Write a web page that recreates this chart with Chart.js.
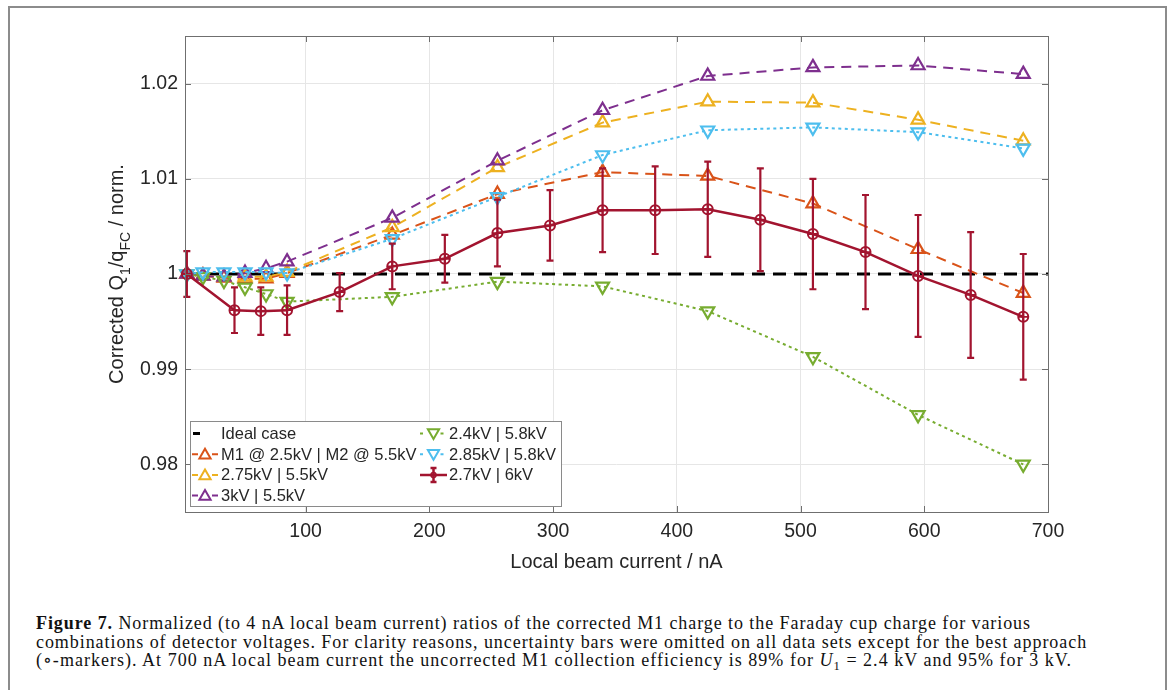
<!DOCTYPE html>
<html>
<head>
<meta charset="utf-8">
<script src="https://cdn.jsdelivr.net/npm/chart.js"></script>
<style>
  body { margin: 0; background: #fff; width: 1171px; height: 690px; overflow: hidden; position: relative; }
  #frame { position: absolute; left: 8px; top: 6px; width: 1155px; height: 720px; border: 2px solid #8c8c8c; border-bottom: none; }
  #plot { position: absolute; left: 0; top: 0; }
  #caption { position: absolute; left: 36px; top: 614px; font-family: "Liberation Serif", "DejaVu Serif", serif; font-size: 18px; color: #111; line-height: 18.5px; }
  #caption div { white-space: nowrap; width: max-content; }
  #caption sub { font-size: 0.7em; vertical-align: -0.3em; line-height: 0; }
</style>
</head>
<body>
<div id="frame"></div>
<canvas id="plot" width="1171" height="590"></canvas>
<div id="caption">
  <div><b>Figure 7.</b> Normalized (to 4 nA local beam current) ratios of the corrected M1 charge to the Faraday cup charge for various</div>
  <div>combinations of detector voltages. For clarity reasons, uncertainty bars were omitted on all data sets except for the best approach</div>
  <div>(∘-markers). At 700 nA local beam current the uncorrected M1 collection efficiency is 89% for <i>U</i><sub>1</sub> = 2.4 kV and 95% for 3 kV.</div>
</div>
<script>
// x positions (nA)
const xTri = [4, 17, 34, 51, 68, 85, 170, 255, 340, 425, 510, 595, 680];
const xRed = [4, 42.5, 63.75, 85, 127.5, 170, 212.5, 255, 297.5, 340, 382.5, 425, 467.5, 510, 552.5, 595, 637.5, 680];
const idealX = [2.5, 700];
const idealY = [1, 1];

// series values
const yM1 = [1.0, 0.9998, 0.9996, 0.9995, 0.9995, 1.0001, 1.0041, 1.0084, 1.0107, 1.0103, 1.0074, 1.0026, 0.9980];
const y275 = [1.0, 0.9998, 0.9997, 0.9997, 0.9997, 1.0002, 1.0049, 1.0112, 1.0159, 1.0181, 1.0180, 1.0162, 1.0140];
const y3 = [1.0, 0.9998, 0.9997, 1.0001, 1.0006, 1.0013, 1.0059, 1.0119, 1.0172, 1.0208, 1.0217, 1.0219, 1.0210];
const y24 = [1.0, 0.9997, 0.9993, 0.9986, 0.9979, 0.9971, 0.9976, 0.9992, 0.9987, 0.9961, 0.9913, 0.9852, 0.9800];
const y285 = [1.0, 1.0002, 1.0002, 1.0002, 1.0002, 1.0001, 1.0037, 1.0081, 1.0125, 1.0151, 1.0154, 1.0149, 1.0132];
const yRed = [1.0, 0.9962, 0.9961, 0.9962, 0.9981, 1.0008, 1.0016, 1.0043, 1.0051, 1.0067, 1.0067, 1.0068, 1.0057, 1.0042, 1.0023, 0.9998, 0.9978, 0.9955];
const errRed = [0.0024, 0.0024, 0.0025, 0.0026, 0.0020, 0.0024, 0.0025, 0.0035, 0.0037, 0.0044, 0.0046, 0.0050, 0.0054, 0.0058, 0.0060, 0.0064, 0.0066, 0.0066];

// axis ticks
const xTicks = [100, 200, 300, 400, 500, 600, 700];
const yTicks = [0.98, 0.99, 1, 1.01, 1.02];
const yTickLabels = ['0.98', '0.99', '1', '1.01', '1.02'];

const SANS = '"Liberation Sans", Arial, sans-serif';
const TXT = '#262626';

function pts(xs, ys) { return xs.map((x, i) => ({ x: x, y: ys[i] })); }

function series(label, xs, ys, color, dash, style, rot, order) {
  return {
    label: label, data: pts(xs, ys), borderColor: color, borderWidth: 2, borderDash: dash,
    pointStyle: style, pointRotation: rot, pointRadius: 7.5, pointBorderWidth: 2.2,
    pointBorderColor: color, pointBackgroundColor: 'rgba(0,0,0,0)', tension: 0, clip: false, order: order
  };
}

const datasets = [
  { label: 'Ideal case', data: pts(idealX, idealY), borderColor: '#000', borderWidth: 3, borderDash: [13, 8], pointRadius: 0, clip: false, order: 10 },
  series('M1 @ 2.5kV | M2 @ 5.5kV', xTri, yM1, '#D95319', [10, 7], 'triangle', 0, 9),
  series('2.75kV | 5.5kV', xTri, y275, '#EDB120', [10, 7], 'triangle', 0, 8),
  series('3kV | 5.5kV', xTri, y3, '#7E2F8E', [10, 7], 'triangle', 0, 7),
  series('2.4kV | 5.8kV', xTri, y24, '#77AC30', [3, 3.5], 'triangle', 180, 6),
  series('2.85kV | 5.8kV', xTri, y285, '#4DBEEE', [3, 3.5], 'triangle', 180, 5),
  { label: '2.7kV | 6kV', data: pts(xRed, yRed), borderColor: '#A2142F', borderWidth: 2.5, pointStyle: 'circle', pointRadius: 5,
    pointBorderWidth: 2, pointBorderColor: '#A2142F', pointBackgroundColor: 'rgba(0,0,0,0)', tension: 0, clip: false, order: 1 },
  { label: '', data: pts(xRed, yRed), showLine: false, pointStyle: 'cross', pointRadius: 5, pointBorderWidth: 1.8,
    pointBorderColor: '#A2142F', clip: false, order: 0 }
];
const RED = 6;

// legend layout: [dataset, column, row]
const legendItems = [[0, 0, 0], [1, 0, 1], [2, 0, 2], [3, 0, 3], [4, 1, 0], [5, 1, 1], [6, 1, 2]];

function marker(ctx, style, x, y, r, rot) {
  ctx.beginPath();
  if (style === 'circle') {
    ctx.arc(x, y, r, 0, Math.PI * 2);
  } else {
    let a = rot * Math.PI / 180;
    for (let k = 0; k < 3; k++) {
      const px = x + Math.sin(a) * r, py = y - Math.cos(a) * r;
      k ? ctx.lineTo(px, py) : ctx.moveTo(px, py);
      a += Math.PI * 2 / 3;
    }
    ctx.closePath();
  }
  ctx.stroke();
}

const figPlugin = {
  id: 'fig',
  beforeDatasetDraw(chart, args) {
    if (args.index !== RED) return;
    const sx = chart.scales.x, sy = chart.scales.y, ctx = chart.ctx;
    ctx.save();
    ctx.strokeStyle = '#A2142F';
    ctx.lineWidth = 2.2;
    xRed.forEach((xv, i) => {
      const px = sx.getPixelForValue(xv);
      const t = sy.getPixelForValue(yRed[i] + errRed[i]);
      const b = sy.getPixelForValue(yRed[i] - errRed[i]);
      ctx.beginPath();
      ctx.moveTo(px, t); ctx.lineTo(px, b);
      ctx.moveTo(px - 3.5, t); ctx.lineTo(px + 3.5, t);
      ctx.moveTo(px - 3.5, b); ctx.lineTo(px + 3.5, b);
      ctx.stroke();
    });
    ctx.restore();
  },
  afterDraw(chart) {
    const ctx = chart.ctx, a = chart.chartArea, sx = chart.scales.x, sy = chart.scales.y;
    ctx.save();
    // axes box with inward ticks
    ctx.strokeStyle = '#6f6f6f';
    ctx.lineWidth = 1;
    ctx.strokeRect(a.left + 0.5, a.top + 0.5, a.right - a.left, a.bottom - a.top);
    ctx.beginPath();
    xTicks.forEach(v => {
      const px = Math.round(sx.getPixelForValue(v)) + 0.5;
      ctx.moveTo(px, a.bottom); ctx.lineTo(px, a.bottom - 6);
      ctx.moveTo(px, a.top); ctx.lineTo(px, a.top + 6);
    });
    yTicks.forEach(v => {
      const py = Math.round(sy.getPixelForValue(v)) + 0.5;
      ctx.moveTo(a.left, py); ctx.lineTo(a.left + 6, py);
      ctx.moveTo(a.right, py); ctx.lineTo(a.right - 6, py);
    });
    ctx.stroke();

    // axis titles
    ctx.fillStyle = TXT;
    ctx.font = '20px ' + SANS;
    ctx.textAlign = 'center';
    ctx.textBaseline = 'middle';
    ctx.fillText('Local beam current / nA', (a.left + a.right) / 2, 562);

    const runs = [['Corrected Q', 0], ['1', 1], ['/q', 0], ['FC', 1], [' / norm.', 0]];
    let w = 0;
    runs.forEach(r => { ctx.font = (r[1] ? '14px ' : '20px ') + SANS; w += ctx.measureText(r[0]).width; });
    ctx.translate(123, (a.top + a.bottom) / 2);
    ctx.rotate(-Math.PI / 2);
    ctx.textAlign = 'left';
    ctx.textBaseline = 'alphabetic';
    let cx = -w / 2;
    runs.forEach(r => {
      ctx.font = (r[1] ? '14px ' : '20px ') + SANS;
      ctx.fillText(r[0], cx, r[1] ? 7 : 0);
      cx += ctx.measureText(r[0]).width;
    });
    ctx.setTransform(1, 0, 0, 1, 0, 0);

    // legend
    const L = 190.5, T = 421.5, R = 561.5, B = 506.5;
    ctx.fillStyle = '#fff';
    ctx.fillRect(L, T, R - L, B - T);
    ctx.strokeStyle = '#8a8a8a';
    ctx.lineWidth = 1;
    ctx.strokeRect(L, T, R - L, B - T);
    const cols = [[192, 218, 221], [420, 447, 449]];
    ctx.font = '16.5px ' + SANS;
    ctx.textAlign = 'left';
    ctx.textBaseline = 'middle';
    legendItems.forEach(it => {
      const ds = chart.data.datasets[it[0]];
      const c = cols[it[1]], y = 433.5 + it[2] * 20.7;
      const mid = (c[0] + c[1]) / 2;
      ctx.strokeStyle = ds.borderColor;
      ctx.lineWidth = ds.borderWidth;
      ctx.beginPath();
      if (it[0] === 0) {
        ctx.moveTo(193, y); ctx.lineTo(200, y);
        ctx.stroke();
      } else if (it[0] === RED) {
        ctx.moveTo(c[0], y); ctx.lineTo(c[1], y);
        ctx.moveTo(mid, y - 7); ctx.lineTo(mid, y + 7);
        ctx.moveTo(mid - 3, y - 7); ctx.lineTo(mid + 3, y - 7);
        ctx.moveTo(mid - 3, y + 7); ctx.lineTo(mid + 3, y + 7);
        ctx.stroke();
        ctx.lineWidth = 1.5;
        marker(ctx, 'circle', mid, y, 2.5, 0);
      } else {
        ctx.setLineDash(ds.borderDash[0] > 5 ? [] : ds.borderDash);
        ctx.moveTo(c[0], y); ctx.lineTo(mid - 7, y);
        ctx.moveTo(mid + 7, y); ctx.lineTo(c[1], y);
        ctx.stroke();
        ctx.setLineDash([]);
        marker(ctx, ds.pointStyle, mid, y + (ds.pointRotation ? -1 : 1), 6.5, ds.pointRotation);
      }
      ctx.fillStyle = TXT;
      ctx.fillText(ds.label, c[2], y + 1);
    });
    ctx.restore();
  }
};

new Chart(document.getElementById('plot'), {
  type: 'line',
  data: { datasets: datasets },
  plugins: [figPlugin],
  options: {
    responsive: false,
    animation: false,
    devicePixelRatio: 1,
    events: [],
    layout: { padding: { top: 36, right: 123, bottom: 0, left: 0 } },
    plugins: { legend: { display: false }, tooltip: { enabled: false } },
    scales: {
      x: {
        type: 'linear', min: 2.5, max: 700,
        afterBuildTicks: s => { s.ticks = xTicks.map(v => ({ value: v })); },
        afterFit: s => { s.height = 78; },
        grid: { color: '#e6e6e6', drawTicks: false },
        border: { display: false },
        ticks: { color: TXT, font: { family: SANS, size: 19.5 }, padding: 8, maxRotation: 0 }
      },
      y: {
        type: 'linear', min: 0.975, max: 1.025,
        afterBuildTicks: s => { s.ticks = yTicks.map(v => ({ value: v })); },
        afterFit: s => { s.width = 185; },
        grid: { color: '#e6e6e6', drawTicks: false },
        border: { display: false },
        ticks: { color: TXT, font: { family: SANS, size: 19.5 }, padding: 7, callback: (v, i) => yTickLabels[i] }
      }
    }
  }
});

// fit caption lines to the printed widths with letter spacing
(function () {
  const lines = document.querySelectorAll('#caption div');
  const targets = [995, 1051, 1036];
  lines.forEach((ln, i) => {
    const n = ln.textContent.trim().length;
    const d = targets[i] - ln.getBoundingClientRect().width;
    ln.style.letterSpacing = (d / n).toFixed(3) + 'px';
  });
})();
</script>
</body>
</html>
